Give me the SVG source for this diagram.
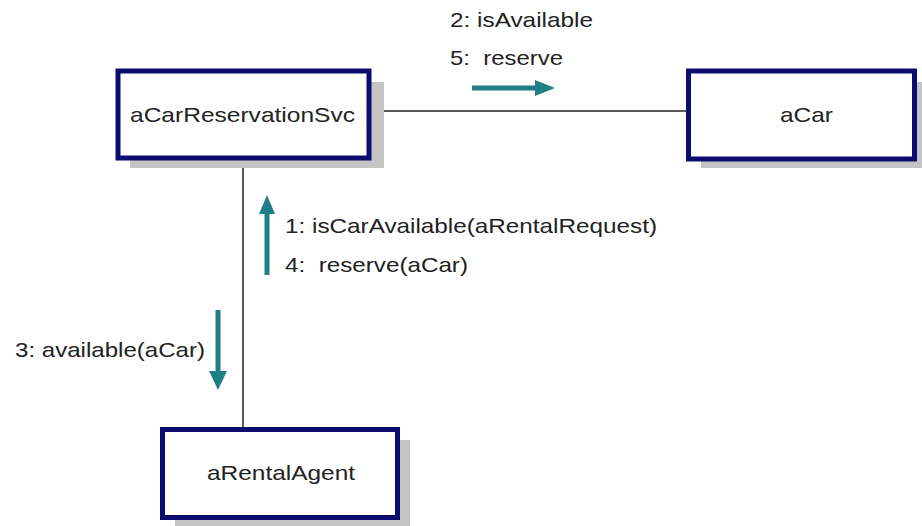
<svg xmlns="http://www.w3.org/2000/svg" width="922" height="526" viewBox="0 0 922 526">
<defs>
<style>
.shadow{fill:#c4c4c4;}
.box{fill:#ffffff;stroke:#0c0c70;stroke-width:5;}
.lbl{font-family:"Liberation Sans",Arial,sans-serif;font-size:21px;fill:#222222;}
.link{stroke:#222222;stroke-width:1.5;fill:none;}
.msg{stroke:#1f7f86;stroke-width:5;fill:none;}
.head{fill:#1f7f86;}
</style>
</defs>
<rect width="922" height="526" fill="#ffffff"/>
<g id="connectors">
<line class="link" x1="372" y1="111" x2="686" y2="111"/>
<line class="link" x1="243" y1="160" x2="243" y2="427"/>
<line class="msg" x1="472" y1="88" x2="540" y2="88"/>
<polygon class="head" points="555,88 535,80 535,96"/>
<line class="msg" x1="267" y1="275" x2="267" y2="210"/>
<polygon class="head" points="267,195 259,214 275,214"/>
<line class="msg" x1="218" y1="310" x2="218" y2="374"/>
<polygon class="head" points="218,390 209,371 227,371"/>
<text class="lbl" x="450" y="27" textLength="143" lengthAdjust="spacingAndGlyphs">2: isAvailable</text>
<text class="lbl" x="450" y="65" textLength="113" lengthAdjust="spacingAndGlyphs" xml:space="preserve">5:  reserve</text>
<text class="lbl" x="285" y="233" textLength="372" lengthAdjust="spacingAndGlyphs">1: isCarAvailable(aRentalRequest)</text>
<text class="lbl" x="285" y="272" textLength="183" lengthAdjust="spacingAndGlyphs" xml:space="preserve">4:  reserve(aCar)</text>
<text class="lbl" x="15" y="357" textLength="190" lengthAdjust="spacingAndGlyphs">3: available(aCar)</text>
</g>
<g id="aCarReservationSvc">
<rect class="shadow" x="130" y="82" width="254" height="86"/>
<rect class="box" x="118" y="71" width="251" height="87"/>
<text class="lbl" x="130" y="122" textLength="225" lengthAdjust="spacingAndGlyphs">aCarReservationSvc</text>
</g>
<g id="aCar">
<rect class="shadow" x="701" y="82" width="221" height="86"/>
<rect class="box" x="688.5" y="71" width="226" height="88"/>
<text class="lbl" x="780" y="122" textLength="53" lengthAdjust="spacingAndGlyphs">aCar</text>
</g>
<g id="aRentalAgent">
<rect class="shadow" x="175" y="440" width="235" height="86"/>
<rect class="box" x="162.5" y="429.5" width="235" height="88"/>
<text class="lbl" x="207" y="480" textLength="148" lengthAdjust="spacingAndGlyphs">aRentalAgent</text>
</g>
</svg>
